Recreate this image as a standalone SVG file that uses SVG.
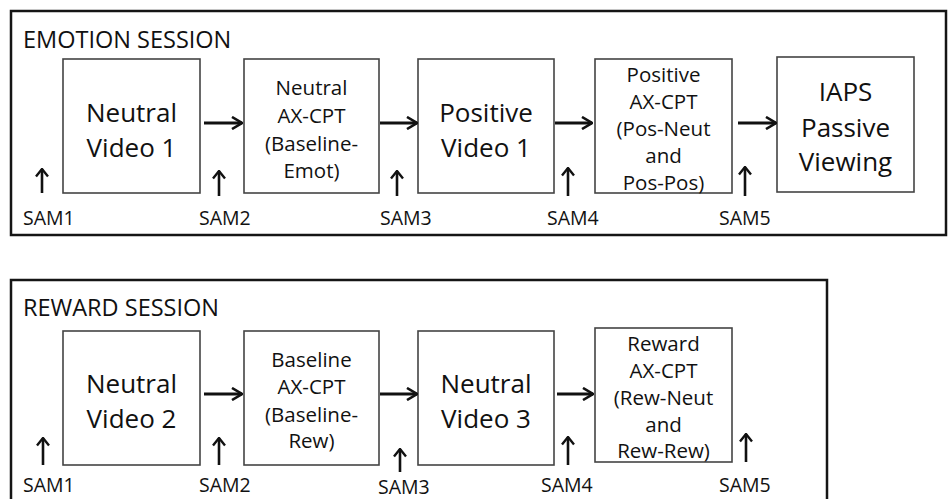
<svg xmlns="http://www.w3.org/2000/svg" width="949" height="499" viewBox="0 0 949 499">
<defs>
<style>
.frame{fill:none;stroke:#151515;stroke-width:2.5}
.box{fill:#fff;stroke:#444;stroke-width:1.6}
text{font-family:"Open Sans","Liberation Sans",sans-serif;fill:#111}
.title{font-size:23.5px}
.big{font-size:26px;text-anchor:middle}
.small{font-size:20.5px;text-anchor:middle}
.sam{font-size:19.5px}
.arr{fill:none;stroke:#111;stroke-width:3}
.up{fill:none;stroke:#111;stroke-width:2.6}
</style>
<marker id="ah" viewBox="0 0 12 14" refX="11" refY="7" markerWidth="12" markerHeight="14" markerUnits="userSpaceOnUse" orient="auto">
<path d="M1,1 L11,7 L1,13" fill="none" stroke="#111" stroke-width="2.6"/>
</marker>
<marker id="uh" viewBox="0 0 10 14" refX="9" refY="7" markerWidth="10" markerHeight="14" markerUnits="userSpaceOnUse" orient="auto">
<path d="M1.5,1 L9,7 L1.5,13" fill="none" stroke="#111" stroke-width="2.4"/>
</marker>
</defs>
<rect width="949" height="499" fill="#fff"/>

<g id="emotion-session">
<rect class="frame" x="11" y="11" width="935" height="224"/>
<text class="title" x="23" y="48">EMOTION SESSION</text>
</g>
<g id="reward-session">
<path class="frame" d="M11,505 L11,280 L827,280 L827,505"/>
<text class="title" x="23" y="316">REWARD SESSION</text>
</g>

<g id="e-neutral-video-1">
<rect class="box" x="63" y="59" width="137" height="134"/>
<text class="big" x="131.5" y="122">Neutral</text>
<text class="big" x="131.5" y="157">Video 1</text>
</g>
<g id="e-neutral-axcpt">
<rect class="box" x="244" y="59" width="135" height="134"/>
<text class="small" x="311.5" y="95">Neutral</text>
<text class="small" x="311.5" y="123">AX-CPT</text>
<text class="small" x="311.5" y="151">(Baseline-</text>
<text class="small" x="311.5" y="178">Emot)</text>
</g>
<g id="e-positive-video-1">
<rect class="box" x="418" y="59" width="136" height="134"/>
<text class="big" x="486" y="122">Positive</text>
<text class="big" x="486" y="157">Video 1</text>
</g>
<g id="e-positive-axcpt">
<rect class="box" x="595" y="59" width="137" height="134"/>
<text class="small" x="663.5" y="82">Positive</text>
<text class="small" x="663.5" y="109">AX-CPT</text>
<text class="small" x="663.5" y="136">(Pos-Neut</text>
<text class="small" x="663.5" y="163">and</text>
<text class="small" x="663.5" y="190">Pos-Pos)</text>
</g>
<g id="e-iaps">
<rect class="box" x="777" y="57" width="137" height="135"/>
<text class="big" x="845.5" y="101">IAPS</text>
<text class="big" x="845.5" y="137">Passive</text>
<text class="big" x="845.5" y="171">Viewing</text>
</g>

<g id="r-neutral-video-2">
<rect class="box" x="63" y="331" width="137" height="134"/>
<text class="big" x="131.5" y="393">Neutral</text>
<text class="big" x="131.5" y="428">Video 2</text>
</g>
<g id="r-baseline-axcpt">
<rect class="box" x="244" y="331" width="135" height="134"/>
<text class="small" x="311.5" y="367">Baseline</text>
<text class="small" x="311.5" y="394">AX-CPT</text>
<text class="small" x="311.5" y="422">(Baseline-</text>
<text class="small" x="311.5" y="448">Rew)</text>
</g>
<g id="r-neutral-video-3">
<rect class="box" x="418" y="331" width="136" height="134"/>
<text class="big" x="486" y="393">Neutral</text>
<text class="big" x="486" y="428">Video 3</text>
</g>
<g id="r-reward-axcpt">
<rect class="box" x="595" y="328" width="137" height="134"/>
<text class="small" x="663.5" y="351">Reward</text>
<text class="small" x="663.5" y="378">AX-CPT</text>
<text class="small" x="663.5" y="405">(Rew-Neut</text>
<text class="small" x="663.5" y="432">and</text>
<text class="small" x="663.5" y="458">Rew-Rew)</text>
</g>

<g id="sam-labels">
<text class="sam" x="23" y="225">SAM1</text>
<text class="sam" x="199" y="225">SAM2</text>
<text class="sam" x="380" y="225">SAM3</text>
<text class="sam" x="547" y="225">SAM4</text>
<text class="sam" x="719" y="225">SAM5</text>
<text class="sam" x="23" y="492">SAM1</text>
<text class="sam" x="199" y="492">SAM2</text>
<text class="sam" x="378" y="494">SAM3</text>
<text class="sam" x="541" y="492">SAM4</text>
<text class="sam" x="719" y="492">SAM5</text>
</g>

<g id="connectors">
<path class="arr" marker-end="url(#ah)" d="M204,123 L242,123"/>
<path class="arr" marker-end="url(#ah)" d="M380,123 L417,123"/>
<path class="arr" marker-end="url(#ah)" d="M555,123 L592,123"/>
<path class="arr" marker-end="url(#ah)" d="M738,123 L776,123"/>
<path class="arr" marker-end="url(#ah)" d="M204,394 L242,394"/>
<path class="arr" marker-end="url(#ah)" d="M380,394 L417,394"/>
<path class="arr" marker-end="url(#ah)" d="M557,394 L593,394"/>

<path class="up" marker-end="url(#uh)" d="M42,193 L42,169"/>
<path class="up" marker-end="url(#uh)" d="M219,196 L219,171"/>
<path class="up" marker-end="url(#uh)" d="M397,196 L397,171"/>
<path class="up" marker-end="url(#uh)" d="M568,196 L568,168"/>
<path class="up" marker-end="url(#uh)" d="M745,196 L745,167"/>
<path class="up" marker-end="url(#uh)" d="M43,465 L43,438"/>
<path class="up" marker-end="url(#uh)" d="M219,465 L219,438"/>
<path class="up" marker-end="url(#uh)" d="M400,472 L400,449"/>
<path class="up" marker-end="url(#uh)" d="M568,465 L568,437"/>
<path class="up" marker-end="url(#uh)" d="M746,462 L746,434"/>
</g>
</svg>
